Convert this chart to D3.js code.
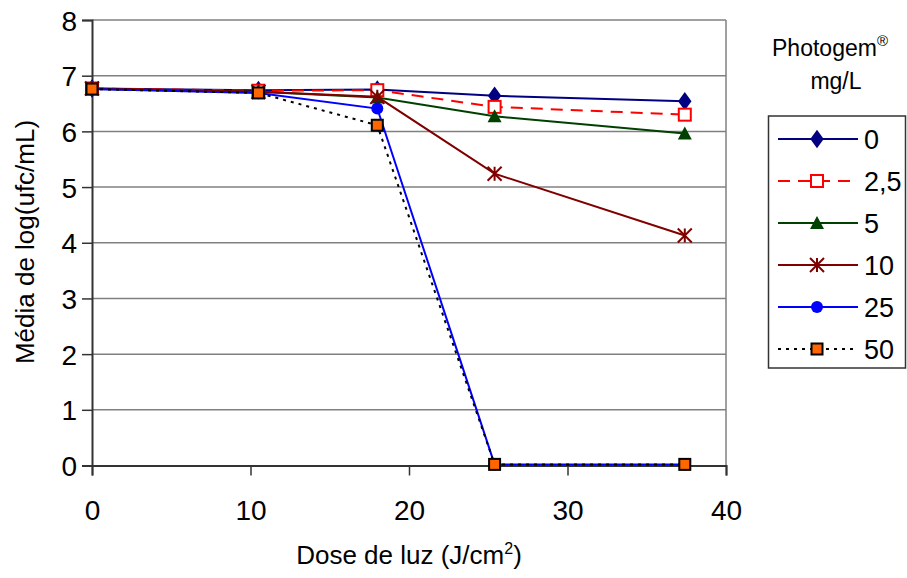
<!DOCTYPE html>
<html><head><meta charset="utf-8">
<script src="https://cdn.jsdelivr.net/npm/d3@7"></script>
<style>body{margin:0;background:#fff}svg{display:block;font-family:"Liberation Sans",Arial,sans-serif}</style>
</head><body>
<svg id="c" width="907" height="578"></svg>
<script>
const doses = [0, 10.5, 18, 25.4, 37.4];
const seriesNames = ["0", "2,5", "5", "10", "25", "50"];
const s0  = [6.77, 6.74, 6.75, 6.64, 6.54];
const s25 = [6.77, 6.73, 6.74, 6.44, 6.30];
const s5  = [6.76, 6.71, 6.61, 6.27, 5.96];
const s10 = [6.77, 6.71, 6.62, 5.24, 4.13];
const s25b= [6.76, 6.69, 6.41, 0.02, 0.02];
const s50 = [6.76, 6.69, 6.11, 0.02, 0.02];
const xTicks = [0, 10, 20, 30, 40];
const yTicks = [0, 1, 2, 3, 4, 5, 6, 7, 8];

const styles = [
  {color:"#000080", dash:null, marker:"diamond", fill:"#000080"},
  {color:"#FF0000", dash:"12,8", marker:"square", fill:"#FFFFFF"},
  {color:"#004000", dash:null, marker:"triangle", fill:"#004000"},
  {color:"#800000", dash:null, marker:"star", fill:"none"},
  {color:"#0000FF", dash:null, marker:"circle", fill:"#0000FF"},
  {color:"#000000", dash:"3,5", marker:"osquare", fill:"#FF6600"}
];
const allSeries = [s0, s25, s5, s10, s25b, s50];

const svg = d3.select("#c");
const L = 92, R = 726, T = 20, B = 465.5;
const x = d3.scaleLinear().domain([0, 40]).range([L, R]);
const y = d3.scaleLinear().domain([0, 8]).range([B, T]);

// gridlines
svg.append("g").selectAll("line").data(yTicks.slice(1)).join("line")
  .attr("x1", L).attr("x2", R).attr("y1", d => y(d)).attr("y2", d => y(d))
  .attr("stroke", "#808080").attr("stroke-width", 1.5);
svg.append("line").attr("x1", R).attr("x2", R).attr("y1", T).attr("y2", B)
  .attr("stroke", "#808080").attr("stroke-width", 1.5);

// axes
const yAxis = d3.axisLeft(y).tickValues(yTicks).tickSize(10).tickPadding(5).tickFormat(d3.format("d"));
const gy = svg.append("g").attr("transform", `translate(${L},0)`).call(yAxis);
const xAxis = d3.axisBottom(x).tickValues(xTicks).tickSize(10).tickPadding(25).tickFormat(d3.format("d"));
const gx = svg.append("g").attr("transform", `translate(0,${B})`).call(xAxis);
[gx, gy].forEach(g => {
  g.attr("font-size", null).attr("font-family", null);
  g.select(".domain").attr("stroke", "#333").attr("stroke-width", 2);
  g.selectAll(".tick line").attr("stroke", "#333").attr("stroke-width", 1.5);
  g.selectAll(".tick text").attr("fill", "#000").style("font-size", "28px");
});
gy.selectAll(".tick text").attr("dy", "0.36em");

// axis titles
svg.append("text").attr("x", 409).attr("y", 564).attr("text-anchor", "middle")
  .style("font-size", "26px").html('Dose de luz (J/cm<tspan dy="-10" style="font-size:16px">2</tspan><tspan dy="10">)</tspan>');
svg.append("text").attr("transform", "translate(34,242) rotate(-90)").attr("text-anchor", "middle")
  .style("font-size", "26px").text("Média de log(ufc/mL)");

function drawMarker(g, st, cx, cy) {
  const m = st.marker;
  if (m === "diamond") {
    g.append("path").attr("d", d3.symbol(d3.symbolDiamond, 100)()).attr("transform", `translate(${cx},${cy}) scale(1.25,1)`)
      .attr("fill", st.fill);
  } else if (m === "square") {
    g.append("rect").attr("x", cx - 6).attr("y", cy - 6).attr("width", 12).attr("height", 12)
      .attr("fill", st.fill).attr("stroke", st.color).attr("stroke-width", 2);
  } else if (m === "osquare") {
    g.append("rect").attr("x", cx - 5.5).attr("y", cy - 5.5).attr("width", 11).attr("height", 11)
      .attr("fill", st.fill).attr("stroke", "#000").attr("stroke-width", 2);
  } else if (m === "triangle") {
    g.append("path").attr("d", `M${cx},${cy-7}L${cx+7},${cy+6}L${cx-7},${cy+6}Z`).attr("fill", st.fill);
  } else if (m === "circle") {
    g.append("circle").attr("cx", cx).attr("cy", cy).attr("r", 6).attr("fill", st.fill);
  } else if (m === "star") {
    const r = 7;
    g.append("path").attr("d",
      `M${cx-r},${cy-r}L${cx+r},${cy+r}M${cx-r},${cy+r}L${cx+r},${cy-r}M${cx},${cy-r}L${cx},${cy+r}`)
      .attr("stroke", st.color).attr("stroke-width", 2).attr("fill", "none");
  }
}

const line = d3.line().x((d, i) => x(doses[i])).y(d => y(d));
allSeries.forEach((vals, k) => {
  const st = styles[k];
  const g = svg.append("g");
  g.append("path").attr("d", line(vals)).attr("fill", "none").attr("stroke", st.color)
    .attr("stroke-width", 2).attr("stroke-dasharray", st.dash);
  vals.forEach((v, i) => drawMarker(g, st, x(doses[i]), y(v)));
});

// legend
svg.append("text").attr("x", 830).attr("y", 56).attr("text-anchor", "middle").style("font-size", "23px")
  .html('Photogem<tspan dy="-10" style="font-size:15px">®</tspan>');
svg.append("text").attr("x", 836).attr("y", 89).attr("text-anchor", "middle").style("font-size", "23px").text("mg/L");
svg.append("rect").attr("x", 768.5).attr("y", 116).attr("width", 137).attr("height", 252)
  .attr("fill", "#fff").attr("stroke", "#333").attr("stroke-width", 1.5);
seriesNames.forEach((n, k) => {
  const st = styles[k];
  const ly = 139 + k * 42;
  const g = svg.append("g");
  g.append("line").attr("x1", 778).attr("x2", 858).attr("y1", ly).attr("y2", ly)
    .attr("stroke", st.color).attr("stroke-width", 2).attr("stroke-dasharray", st.dash);
  drawMarker(g, st, 817, ly);
  g.append("text").attr("x", 864).attr("y", ly).attr("dy", "0.36em").style("font-size", "27px").text(n);
});
</script>
</body></html>
